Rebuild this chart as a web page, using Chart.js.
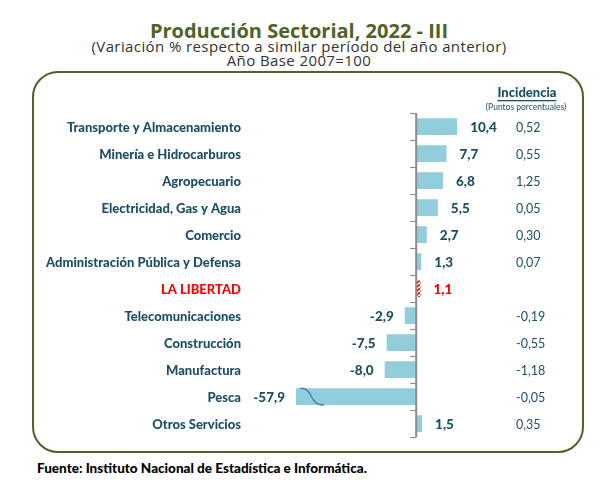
<!DOCTYPE html>
<html>
<head>
<meta charset="utf-8">
<script src="https://cdn.jsdelivr.net/npm/chart.js@4"></script>
<style>
  body { margin: 0; width: 598px; height: 492px; background: #fff; position: relative; overflow: hidden; font-family: "Open Sans", sans-serif; }
  #title { position: absolute; top: 17px; left: 0; width: 598px; text-align: center; font-weight: bold; font-size: 20px; color: #4F6228; }
  #sub { position: absolute; top: 39px; left: 0; width: 598px; text-align: center; font-size: 15px; line-height: 14px; letter-spacing: 0.4px; color: #333; }
  #box { position: absolute; left: 32px; top: 71px; width: 548px; height: 378px; border: 2px solid #4F6228; border-radius: 26px; }
  #source { position: absolute; left: 37px; top: 460px; font-family: Lato, sans-serif; font-weight: 900; font-size: 13.5px; color: #000; }
  canvas { position: absolute; left: 0; top: 0; }
</style>
</head>
<body>
<div id="title">Producción Sectorial, 2022 - III</div>
<div id="sub">(Variación % respecto a similar período del año anterior)<br>Año Base 2007=100</div>
<div id="box"></div>
<div id="source">Fuente: Instituto Nacional de Estadística e Informática.</div>
<canvas id="chart" width="598" height="492"></canvas>
<script>
const sectors = ['Transporte y Almacenamiento', 'Minería e Hidrocarburos', 'Agropecuario',
  'Electricidad, Gas y Agua', 'Comercio', 'Administración Pública y Defensa', 'LA LIBERTAD',
  'Telecomunicaciones', 'Construcción', 'Manufactura', 'Pesca', 'Otros Servicios'];
const variation = [10.4, 7.7, 6.8, 5.5, 2.7, 1.3, 1.1, -2.9, -7.5, -8.0, -57.9, 1.5];
const incidence = ['0,52', '0,55', '1,25', '0,05', '0,30', '0,07', '', '-0,19', '-0,55', '-1,18', '-0,05', '0,35'];
const regionIndex = 6;
const brokenIndex = 10;

const textColor = '#1D4F63';
const barColor = '#92CDDC';

// red dashed fill for the region bar
function redPattern() {
    const c = document.createElement('canvas');
    c.width = 4; c.height = 4;
    const g = c.getContext('2d');
    g.fillStyle = '#fff';
    g.fillRect(0, 0, 4, 4);
    g.strokeStyle = '#FF0000';
    g.lineWidth = 1.6;
    g.beginPath();
    g.moveTo(0, 4); g.lineTo(4, 0);
    g.stroke();
    return g.createPattern(c, 'repeat');
}
const pattern = redPattern();

function fmt(v) {
    return v.toFixed(1).replace('.', ',');
}

// axis line, ticks, values, incidence column and the break mark
const extras = {
    id: 'extras',
    afterDatasetsDraw(chart) {
        const ctx = chart.ctx;
        const x = chart.scales.x;
        const y = chart.scales.y;
        const area = chart.chartArea;
        const x0 = x.getPixelForValue(0);
        const band = (area.bottom - area.top) / sectors.length;
        ctx.save();

        // break mark on the truncated bar
        const bm = chart.getDatasetMeta(0).data[brokenIndex];
        const top = bm.y - bm.height / 2, bot = bm.y + bm.height / 2;
        const bx = area.left + 4;
        ctx.strokeStyle = '#4A7EBB';
        ctx.lineWidth = 1.5;
        ctx.beginPath();
        ctx.moveTo(bx, top);
        ctx.bezierCurveTo(bx + 14, top - 1, bx + 8, bot, bx + 24, bot);
        ctx.stroke();

        // zero axis with ticks
        ctx.strokeStyle = '#8C8C8C';
        ctx.lineWidth = 2;
        ctx.beginPath();
        ctx.moveTo(x0, area.top);
        ctx.lineTo(x0, area.bottom);
        ctx.stroke();
        ctx.lineWidth = 1.2;
        for (let i = 0; i <= sectors.length; i++) {
            const ty = Math.round(area.top + i * band) + 0.5;
            ctx.beginPath();
            ctx.moveTo(x0 - 6, ty);
            ctx.lineTo(x0, ty);
            ctx.stroke();
        }

        // value labels
        ctx.textBaseline = 'middle';
        ctx.font = '900 13.5px Lato, sans-serif';
        variation.forEach((v, i) => {
            const py = y.getPixelForValue(i);
            ctx.fillStyle = i === regionIndex ? '#FF0000' : textColor;
            if (v >= 0) {
                ctx.textAlign = 'left';
                ctx.fillText(fmt(v), x.getPixelForValue(v) + 13, py + 1);
            } else {
                ctx.textAlign = 'right';
                const end = Math.max(x.getPixelForValue(v), area.left);
                ctx.fillText(fmt(v), end - 11, py + 1);
            }
        });

        // incidence column
        ctx.font = '12.5px Lato, sans-serif';
        ctx.fillStyle = textColor;
        ctx.textAlign = 'left';
        incidence.forEach((t, i) => {
            ctx.fillText(t, 516, y.getPixelForValue(i) + 1);
        });
        ctx.textAlign = 'center';
        ctx.font = '900 13px Lato, sans-serif';
        ctx.fillText('Incidencia', 527, 93);
        const w = ctx.measureText('Incidencia').width;
        ctx.fillRect(527 - w / 2, 100, w, 1.3);
        ctx.font = '8.5px Lato, sans-serif';
        ctx.fillText('(Puntos porcentuales)', 526, 107);
        ctx.restore();
    }
};

new Chart(document.getElementById('chart'), {
    type: 'bar',
    data: {
        labels: sectors,
        datasets: [{
            data: variation,
            backgroundColor: variation.map((v, i) => i === regionIndex ? pattern : barColor),
            barPercentage: 0.62,
            categoryPercentage: 1
        }]
    },
    options: {
        indexAxis: 'y',
        responsive: false,
        animation: false,
        layout: { padding: { top: 113, bottom: 52, right: 103, left: 0 } },
        plugins: { legend: { display: false }, tooltip: { enabled: false } },
        scales: {
            x: {
                min: -30.5,
                max: 20,
                display: false
            },
            y: {
                grid: { display: false },
                border: { display: false },
                afterFit(scale) { scale.width = 296; },
                ticks: {
                    padding: 47,
                    labelOffset: 1.5,
                    font: { family: 'Lato', weight: 900, size: 13 },
                    color: sectors.map((s, i) => i === regionIndex ? '#FF0000' : textColor)
                }
            }
        }
    },
    plugins: [extras]
});
</script>
</body>
</html>
